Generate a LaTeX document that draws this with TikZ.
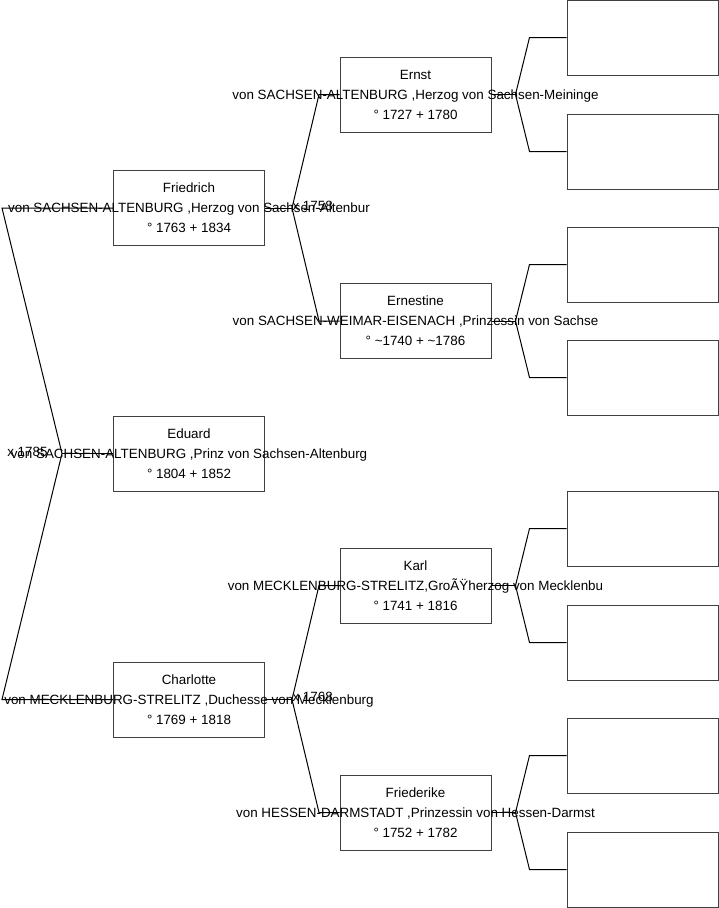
\documentclass[tikz,border=0pt]{standalone}
\usepackage{fontspec}
\setmainfont{Liberation Sans}
\usetikzlibrary{calc}

\begin{document}
\begin{tikzpicture}[
		x=1pt,y=-1pt,
		line width=1pt,
		every node/.style={font=\fontsize{13.4}{20}\selectfont},
		pbox/.style={draw=black!75, minimum width=151pt, minimum height=75pt, inner sep=0pt},
		ptext/.style={align=center, inner sep=0pt},
		wed/.style={inner sep=0pt}
		]
		\useasboundingbox (0,0) rectangle (719,908);
		
		% =========================
		% Generation 1
		% =========================
		\node[pbox] (friedrich) at (189,208) {};
		\node[ptext] (friedrichT) at (friedrich) {Friedrich\\von SACHSEN-ALTENBURG ,Herzog von Sachsen-Altenbur\\° 1763 + 1834};
		
		\node[pbox] (eduard) at (189,453.5) {};
		\node[ptext] (eduardT) at (eduard) {Eduard\\von SACHSEN-ALTENBURG ,Prinz von Sachsen-Altenburg\\° 1804 + 1852};
		
		\node[pbox] (charlotte) at (189,699.5) {};
		\node[ptext] (charlotteT) at (charlotte) {Charlotte\\von MECKLENBURG-STRELITZ ,Duchesse von Mecklenburg\\° 1769 + 1818};
		
		% =========================
		% Generation 2
		% =========================
		\node[pbox] (ernst) at (415.5,94.5) {};
		\node[ptext] (ernstT) at (ernst) {Ernst\\von SACHSEN-ALTENBURG ,Herzog von Sachsen-Meininge\\° 1727 + 1780};
		
		\node[pbox] (ernestine) at (415.5,321) {};
		\node[ptext] (ernestineT) at (ernestine) {Ernestine\\von SACHSEN-WEIMAR-EISENACH ,Prinzessin von Sachse\\° \textasciitilde1740 + \textasciitilde1786};
		
		\node[pbox] (karl) at (415.5,585.5) {};
		\node[ptext] (karlT) at (karl) {Karl\\von MECKLENBURG-STRELITZ,GroÃŸherzog von Mecklenbu\\° 1741 + 1816};
		
		\node[pbox] (friederike) at (415.5,812.5) {};
		\node[ptext] (friederikeT) at (friederike) {Friederike\\von HESSEN-DARMSTADT ,Prinzessin von Hessen-Darmst\\° 1752 + 1782};
		
		% =========================
		% Generation 3 (empty)
		% =========================
		\foreach \y [count=\i] in {37.5,151.5,264.5,377.5,528.5,642.5,755.5,869.5}
		\node[pbox] (anc\i) at (642.5,\y) {};
		
		% =========================
		% Connectors
		% =========================
		\coordinate (fkE) at (62,453.5);
		\coordinate (elF) at (2,208);
		\coordinate (elC) at (2,699.5);
		\draw (eduard.west) -- (fkE);
		\draw (fkE) -- (elF) -- (friedrich.west);
		\draw (fkE) -- (elC) -- (charlotte.west);
		\node[wed, anchor=east] (wedE) at (48,452) {x 1785};
		
		\coordinate (fkF) at (292,208);
		\coordinate (elEr) at (319,94.5);
		\coordinate (elEs) at (319,321);
		\draw (friedrich.east) -- (fkF);
		\draw (fkF) -- (elEr) -- (ernst.west);
		\draw (fkF) -- (elEs) -- (ernestine.west);
		\node[wed, anchor=west] (wedF) at (292,206) {x 1758};
		
		\coordinate (fkC) at (292,699.5);
		\coordinate (elK) at (319,585.5);
		\coordinate (elFr) at (319,812.5);
		\draw (charlotte.east) -- (fkC);
		\draw (fkC) -- (elK) -- (karl.west);
		\draw (fkC) -- (elFr) -- (friederike.west);
		\node[wed, anchor=west] (wedC) at (292,697) {x 1768};
		
		\foreach \p/\a/\b in {ernst/1/2, ernestine/3/4, karl/5/6, friederike/7/8}{
			\coordinate (fk\p) at ($(\p.east)+(24,0)$);
			\draw (\p.east) -- (fk\p);
			\draw (fk\p) -- ($(anc\a.west)+(-37,0)$) -- (anc\a.west);
			\draw (fk\p) -- ($(anc\b.west)+(-37,0)$) -- (anc\b.west);
		}
		
	\end{tikzpicture}
\end{document}
